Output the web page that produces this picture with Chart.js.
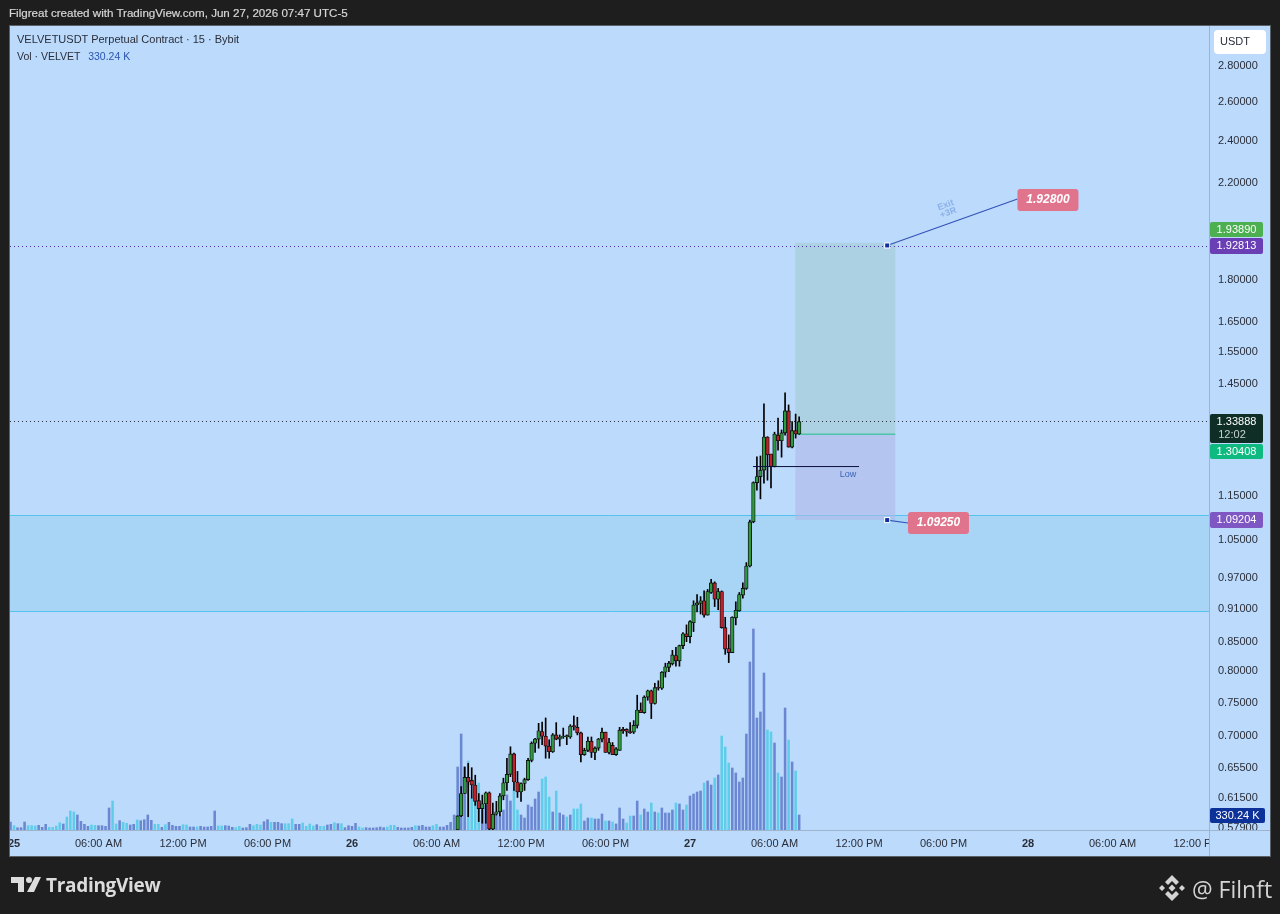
<!DOCTYPE html>
<html>
<head>
<meta charset="utf-8">
<title>VELVETUSDT</title>
<script src="https://cdn.jsdelivr.net/npm/chart.js@4"></script>
<style>
  html, body { margin: 0; padding: 0; background: #1e1e1e; }
  body { width: 1280px; height: 914px; position: relative; overflow: hidden; font-family: "Liberation Sans", sans-serif; }
  canvas { position: absolute; left: 0; top: 0; }
  .txt { position: absolute; white-space: nowrap; }
  #topline { left: 9px; top: 6px; font-size: 11.6px; line-height: 14px; color: #d6d6d6; -webkit-text-stroke: 0.2px #d6d6d6; }
  #legend1 { left: 17px; top: 32px; font-size: 11px; line-height: 15px; color: #2a2e39; }
  #legend2 { left: 17px; top: 49px; font-size: 10.5px; line-height: 15px; color: #2a2e39; }
  #legend2 span { color: #2a55b0; margin-left: 5px; }
  #tvname { left: 46px; top: 873px; font-size: 19px; line-height: 24px; font-weight: bold; color: #dcdcdc; font-family: "Open Sans", sans-serif; letter-spacing: -0.3px; }
  #author { left: 1192px; top: 874px; font-size: 23px; line-height: 30px; color: #d4d4d4; font-family: "Open Sans", sans-serif; }
  svg { position: absolute; }
</style>
</head>
<body>
<canvas id="myChart" width="1280" height="914"></canvas>

<div class="txt" id="topline">Filgreat created with TradingView.com, Jun 27, 2026 07:47 UTC-5</div>
<div class="txt" id="legend1">VELVETUSDT Perpetual Contract · 15 · Bybit</div>
<div class="txt" id="legend2">Vol · VELVET <span>330.24 K</span></div>

<svg style="left:11px;top:877px" width="30" height="16" viewBox="0 0 30 16">
  <path d="M0 0h13v15H7V6H0z M18 0a3 3 0 1 1 0 6a3 3 0 0 1 0-6z M24 0h6l-7 15h-7z" fill="#dcdcdc"/>
</svg>
<div class="txt" id="tvname">TradingView</div>

<svg style="left:1158px;top:874px" width="28" height="28" viewBox="0 0 28 28">
  <path d="M14 1l7 7-3 3-4-4-4 4-3-3z M14 27l-7-7 3-3 4 4 4-4 3 3z M1 14l3-3 3 3-3 3z M27 14l-3-3-3 3 3 3z M14 10.500l3.500 3.500-3.500 3.500-3.500-3.500z" fill="#d4d4d4"/>
</svg>
<div class="txt" id="author">@ Filnft</div>

<script>
// Preis-Ticks rechts
const priceTicks = [2.8, 2.6, 2.4, 2.2, 1.8, 1.65, 1.55, 1.45, 1.15, 1.05, 0.97, 0.91, 0.85, 0.8, 0.75, 0.7, 0.655, 0.615, 0.579];

// Zeitachse: Kerzen-Index und Text
const timeTickBars = [0, 24, 48, 72, 96, 120, 144, 168, 192, 216, 240, 264, 288, 312, 336];
const timeTickLabels = ['25', '06:00 AM', '12:00 PM', '06:00 PM', '26', '06:00 AM', '12:00 PM', '06:00 PM', '27', '06:00 AM', '12:00 PM', '06:00 PM', '28', '06:00 AM', '12:00 PM'];

// Kerzen (15 min), erste sichtbare Kerze hat Index 126
const firstCandle = 126;
const opens = [0.575, 0.592, 0.620, 0.641, 0.637, 0.631, 0.611, 0.601, 0.607, 0.621, 0.576, 0.594, 0.597, 0.617, 0.634, 0.645, 0.673, 0.635, 0.622, 0.633,
  0.638, 0.664, 0.688, 0.694, 0.705, 0.698, 0.684, 0.676, 0.700, 0.694, 0.697, 0.697, 0.697, 0.713, 0.711, 0.703, 0.672, 0.678, 0.691, 0.675,
  0.681, 0.694, 0.704, 0.675, 0.685, 0.672, 0.678, 0.708, 0.708, 0.705, 0.704, 0.714, 0.737, 0.733, 0.757, 0.767, 0.747, 0.772, 0.771, 0.797,
  0.805, 0.811, 0.825, 0.816, 0.842, 0.863, 0.858, 0.883, 0.916, 0.919, 0.924, 0.897, 0.940, 0.959, 0.927, 0.942, 0.874, 0.837, 0.830, 0.892,
  0.905, 0.935, 0.948, 0.993, 1.088, 1.180, 1.195, 1.211, 1.297, 1.252, 1.220, 1.302, 1.287, 1.308, 1.369, 1.270, 1.314, 1.305];
const highs = [0.592, 0.629, 0.655, 0.660, 0.654, 0.644, 0.620, 0.618, 0.622, 0.622, 0.608, 0.610, 0.620, 0.640, 0.667, 0.683, 0.674, 0.649, 0.634, 0.640,
  0.667, 0.690, 0.695, 0.717, 0.719, 0.725, 0.693, 0.702, 0.718, 0.700, 0.710, 0.700, 0.715, 0.728, 0.726, 0.704, 0.681, 0.697, 0.697, 0.683,
  0.695, 0.710, 0.704, 0.695, 0.689, 0.682, 0.711, 0.711, 0.709, 0.718, 0.721, 0.760, 0.748, 0.759, 0.768, 0.768, 0.779, 0.783, 0.798, 0.812,
  0.815, 0.834, 0.839, 0.843, 0.865, 0.879, 0.887, 0.924, 0.936, 0.932, 0.943, 0.946, 0.966, 0.961, 0.948, 0.943, 0.893, 0.861, 0.894, 0.922,
  0.940, 0.959, 1.000, 1.092, 1.182, 1.245, 1.247, 1.389, 1.298, 1.252, 1.310, 1.349, 1.316, 1.421, 1.386, 1.339, 1.360, 1.352];
const lows = [0.574, 0.591, 0.620, 0.591, 0.614, 0.605, 0.585, 0.583, 0.583, 0.575, 0.575, 0.593, 0.592, 0.612, 0.624, 0.642, 0.624, 0.615, 0.610, 0.624,
  0.637, 0.662, 0.675, 0.681, 0.686, 0.667, 0.667, 0.675, 0.693, 0.684, 0.695, 0.686, 0.695, 0.707, 0.700, 0.662, 0.671, 0.676, 0.668, 0.665,
  0.678, 0.690, 0.675, 0.673, 0.672, 0.671, 0.678, 0.702, 0.698, 0.702, 0.702, 0.710, 0.733, 0.732, 0.752, 0.724, 0.746, 0.768, 0.769, 0.789,
  0.798, 0.809, 0.807, 0.807, 0.837, 0.849, 0.847, 0.867, 0.903, 0.899, 0.893, 0.897, 0.938, 0.913, 0.907, 0.873, 0.827, 0.813, 0.830, 0.879,
  0.904, 0.929, 0.946, 0.991, 1.086, 1.162, 1.141, 1.179, 1.186, 1.167, 1.219, 1.262, 1.244, 1.302, 1.270, 1.268, 1.294, 1.304];
const closes = [0.592, 0.620, 0.641, 0.635, 0.631, 0.610, 0.601, 0.607, 0.621, 0.576, 0.594, 0.597, 0.617, 0.634, 0.645, 0.673, 0.635, 0.622, 0.633, 0.638,
  0.664, 0.688, 0.694, 0.706, 0.698, 0.684, 0.676, 0.700, 0.694, 0.697, 0.698, 0.699, 0.713, 0.712, 0.703, 0.672, 0.678, 0.691, 0.675, 0.681,
  0.694, 0.704, 0.675, 0.689, 0.672, 0.680, 0.707, 0.706, 0.705, 0.703, 0.714, 0.737, 0.733, 0.757, 0.767, 0.747, 0.772, 0.771, 0.797, 0.806,
  0.812, 0.826, 0.816, 0.842, 0.863, 0.858, 0.885, 0.916, 0.920, 0.924, 0.897, 0.942, 0.959, 0.927, 0.942, 0.874, 0.836, 0.830, 0.893, 0.906,
  0.936, 0.948, 0.993, 1.088, 1.180, 1.195, 1.211, 1.297, 1.250, 1.220, 1.305, 1.287, 1.308, 1.369, 1.270, 1.314, 1.305, 1.33888];

// Volumen in K, erster Balken hat Index -1
const firstVolume = -1;
const volumes = [176, 95, 50, 50, 176, 95, 95, 88, 103, 59, 125, 59, 59, 88, 161, 132, 286, 418, 396, 330, 191, 125, 81, 110, 103,
  95, 95, 81, 484, 638, 132, 205, 169, 147, 110, 125, 220, 205, 227, 330, 213, 125, 125, 59, 117, 169, 103, 81, 81, 117,
  110, 66, 66, 66, 81, 66, 66, 81, 418, 88, 88, 95, 88, 59, 51, 81, 44, 51, 125, 95, 125, 110, 183, 227, 169,
  169, 169, 139, 139, 139, 242, 125, 125, 154, 81, 132, 88, 117, 81, 81, 110, 125, 161, 139, 139, 51, 95, 81, 147, 66,
  44, 51, 44, 44, 51, 66, 51, 66, 103, 103, 59, 44, 44, 44, 59, 95, 88, 103, 66, 66, 95, 125, 66, 66, 103,
  169, 330, 1386, 2112, 1386, 1518, 704, 814, 1034, 440, 550, 220, 374, 330, 308, 440, 770, 638, 880, 440, 330, 264, 550, 506, 682,
  836, 1122, 1166, 726, 396, 858, 374, 330, 286, 330, 462, 462, 572, 198, 264, 264, 242, 242, 352, 198, 198, 176, 132, 484, 242,
  154, 308, 308, 638, 330, 462, 396, 594, 396, 374, 484, 374, 374, 440, 594, 572, 440, 550, 748, 792, 836, 858, 1034, 1078, 990,
  1144, 1210, 2068, 1826, 1474, 1364, 1254, 1056, 1144, 2112, 3696, 4422, 2464, 2596, 3454, 2200, 2156, 1914, 1254, 1166, 2684, 1980, 1496, 1298, 330.24];
// Balken, die hellblau sind
const lightVolumeBars = [0, 4, 5, 6, 10, 11, 12, 13, 15, 16, 17, 22, 23, 28, 29, 31, 32, 35, 40, 41, 43, 48, 49, 52, 58, 59, 63, 64, 68, 69, 70, 73, 77, 78, 79,
  82, 83, 84, 85, 87, 88, 91, 93, 98, 99, 106, 107, 108, 114, 119, 120, 129, 130, 131, 132, 136, 142, 143, 150, 151, 152, 154, 157, 159, 160, 161, 164,
  168, 170, 174, 175, 178, 181, 183, 188, 191, 196, 199, 201, 202, 203, 214, 215, 217, 220, 222];

// Zeichnungen im Chart
const zoneTop = 1.1035;
const zoneBottom = 0.9046;
const positionStart = 221.9;
const positionEnd = 250.3;
const targetPrice = 1.9389;
const entryPrice = 1.30408;
const stopPrice = 1.09204;
const lastPrice = 1.33888;
const exitLinePrice = 1.92813;
const handleBar = 248;
const exitLabelBar = 285;
const exitLabelPrice = 2.123;
const stopLabelBar = 253.9;
const stopLabelPrice = 1.0854;
const lowPrice = 1.22;
const lowFrom = 209.9;
const lowTo = 240;

const panelBg = '#bbdafc';
const darkBg = '#1e1e1e';

function barIndex(start, i) { return start + i; }

const volumeData = volumes.map((v, i) => ({ x: barIndex(firstVolume, i), y: v }));
const volumeColors = volumes.map((v, i) => lightVolumeBars.includes(barIndex(firstVolume, i)) ? '#5fcde9' : '#6b87d2');
const wickData = highs.map((h, i) => ({ x: barIndex(firstCandle, i), y: [lows[i], h] }));
const bodyData = opens.map((o, i) => ({ x: barIndex(firstCandle, i), y: [Math.min(o, closes[i]), Math.max(o, closes[i])] }));
const bodyColors = opens.map((o, i) => closes[i] >= o ? '#2e9a40' : '#c0222c');

function roundBox(ctx, x, y, w, h, r, color) {
  ctx.fillStyle = color;
  ctx.beginPath();
  ctx.roundRect(x, y, w, h, r);
  ctx.fill();
}

// Preis-Schild rechts an der Achse
function axisTag(ctx, text, top, height, color, width) {
  roundBox(ctx, 1210, top, width || 53, height, 2, color);
  ctx.fillStyle = '#ffffff';
  ctx.font = '11px "Liberation Sans"';
  ctx.textAlign = 'center';
  ctx.textBaseline = 'middle';
  ctx.fillText(text, 1210 + (width || 53) / 2, top + 8);
}

function handle(ctx, x, y) {
  ctx.fillStyle = '#ffffff';
  ctx.fillRect(x - 3, y - 3, 6, 6);
  ctx.fillStyle = '#0d2f9e';
  ctx.fillRect(x - 2, y - 2, 4, 4);
}

function noteLabel(ctx, text, x, y) {
  roundBox(ctx, x, y, 61, 22, 3, '#e0748c');
  ctx.fillStyle = '#ffffff';
  ctx.font = 'italic bold 12px "Liberation Sans"';
  ctx.textAlign = 'center';
  ctx.textBaseline = 'middle';
  ctx.fillText(text, x + 30.5, y + 11);
}

const drawings = {
  id: 'drawings',
  beforeDraw(chart) {
    const ctx = chart.ctx;
    ctx.save();
    ctx.fillStyle = panelBg;
    ctx.fillRect(10, 26, 1260, 830);
    ctx.restore();
  },
  beforeDatasetsDraw(chart) {
    const ctx = chart.ctx;
    const x = chart.scales.x;
    const y = chart.scales.y;
    const area = chart.chartArea;
    ctx.save();

    // Zone
    const zt = Math.round(y.getPixelForValue(zoneTop)) + 0.5;
    const zb = Math.round(y.getPixelForValue(zoneBottom)) + 0.5;
    ctx.fillStyle = '#a8d5f6';
    ctx.fillRect(area.left, zt, area.right - area.left, zb - zt);
    ctx.strokeStyle = '#55c3ee';
    ctx.lineWidth = 1;
    ctx.beginPath();
    ctx.moveTo(area.left, zt);
    ctx.lineTo(area.right, zt);
    ctx.moveTo(area.left, zb);
    ctx.lineTo(area.right, zb);
    ctx.stroke();

    // Long-Position, liegt unter den Kerzen
    const left = x.getPixelForValue(positionStart);
    const right = x.getPixelForValue(positionEnd);
    const top = y.getPixelForValue(targetPrice);
    const entry = y.getPixelForValue(entryPrice);
    const stop = y.getPixelForValue(stopPrice);
    ctx.fillStyle = 'rgba(160, 204, 210, 0.6)';
    ctx.fillRect(left, top, right - left, entry - top);
    ctx.fillStyle = 'rgba(175, 185, 232, 0.6)';
    ctx.fillRect(left, entry, right - left, stop - entry);
    ctx.strokeStyle = '#4dc4a8';
    ctx.lineWidth = 1.5;
    ctx.beginPath();
    ctx.moveTo(left, entry);
    ctx.lineTo(right, entry);
    ctx.stroke();

    // gepunktete Linien
    const exitY = Math.ceil(y.getPixelForValue(exitLinePrice)) + 0.5;
    const lastY = Math.floor(y.getPixelForValue(lastPrice)) + 0.5;
    ctx.lineWidth = 1;
    ctx.setLineDash([1, 3]);
    ctx.strokeStyle = '#4b2fa3';
    ctx.beginPath();
    ctx.moveTo(area.left, exitY);
    ctx.lineTo(area.right, exitY);
    ctx.stroke();
    ctx.strokeStyle = '#2a2e39';
    ctx.beginPath();
    ctx.moveTo(area.left, lastY);
    ctx.lineTo(area.right, lastY);
    ctx.stroke();
    ctx.restore();
  },
  afterDatasetsDraw(chart) {
    const ctx = chart.ctx;
    const x = chart.scales.x;
    const y = chart.scales.y;
    ctx.save();

    // Low
    const lowY = y.getPixelForValue(lowPrice);
    ctx.strokeStyle = '#0b0f3a';
    ctx.lineWidth = 1;
    ctx.beginPath();
    ctx.moveTo(x.getPixelForValue(lowFrom), lowY);
    ctx.lineTo(x.getPixelForValue(lowTo), lowY);
    ctx.stroke();
    ctx.fillStyle = '#3a62b8';
    ctx.font = '9px "Liberation Sans"';
    ctx.textAlign = 'center';
    ctx.textBaseline = 'middle';
    ctx.fillText('Low', x.getPixelForValue(lowTo) - 11, lowY + 8);

    // Exit-Linie + Stop-Linie
    const hx = x.getPixelForValue(handleBar);
    const hy1 = y.getPixelForValue(exitLinePrice);
    const hy2 = y.getPixelForValue(stopPrice);
    const ex = x.getPixelForValue(exitLabelBar);
    const ey = y.getPixelForValue(exitLabelPrice);
    const sx = x.getPixelForValue(stopLabelBar);
    const sy = y.getPixelForValue(stopLabelPrice);
    ctx.strokeStyle = '#3553b8';
    ctx.lineWidth = 1.2;
    ctx.beginPath();
    ctx.moveTo(hx, hy1);
    ctx.lineTo(ex, ey);
    ctx.moveTo(hx, hy2);
    ctx.lineTo(sx, sy);
    ctx.stroke();
    handle(ctx, hx, hy1);
    handle(ctx, hx, hy2);
    noteLabel(ctx, '1.92800', ex, ey - 10);
    noteLabel(ctx, '1.09250', sx, sy - 11);

    // Exit +3R schräg
    ctx.save();
    ctx.translate(947, 209);
    ctx.rotate(-20 * Math.PI / 180);
    ctx.fillStyle = '#8db0e8';
    ctx.font = 'bold 9px "Liberation Sans"';
    ctx.textAlign = 'center';
    ctx.textBaseline = 'middle';
    ctx.fillText('Exit', 0, -4);
    ctx.fillText('+3R', 0, 4);
    ctx.restore();
    ctx.restore();
  },
  afterDraw(chart) {
    const ctx = chart.ctx;
    ctx.save();

    // abgeschnittene Zeitachsen-Texte wie im Original
    ctx.fillStyle = panelBg;
    ctx.fillRect(1209, 831, 61, 25);
    ctx.fillStyle = darkBg;
    ctx.fillRect(0, 826, 10, 32);

    // Rahmen und Trennlinien
    ctx.strokeStyle = '#9fb4cc';
    ctx.lineWidth = 1;
    ctx.beginPath();
    ctx.moveTo(1209.5, 26);
    ctx.lineTo(1209.5, 856);
    ctx.moveTo(10, 830.5);
    ctx.lineTo(1270, 830.5);
    ctx.stroke();
    ctx.strokeStyle = '#5a6068';
    ctx.strokeRect(9.5, 25.5, 1261, 831);

    // USDT
    roundBox(ctx, 1214, 30, 52, 24, 4, '#ffffff');
    ctx.fillStyle = '#2a2e39';
    ctx.font = '11px "Liberation Sans"';
    ctx.textAlign = 'center';
    ctx.textBaseline = 'middle';
    ctx.fillText('USDT', 1235, 42);

    axisTag(ctx, '1.93890', 222, 15, '#4caf50');
    axisTag(ctx, '1.92813', 238, 16, '#6a3fb5');
    axisTag(ctx, '1.33888', 414, 29, '#0e2e26');
    ctx.fillStyle = '#c9d2cf';
    ctx.fillText('12:02', 1232, 435);
    axisTag(ctx, '1.30408', 444, 15, '#0fba80');
    axisTag(ctx, '1.09204', 512, 16, '#7e57c2');
    axisTag(ctx, '330.24 K', 808, 15, '#0c3299', 55);
    ctx.restore();
  }
};

const ctx = document.getElementById('myChart').getContext('2d');

let chart = new Chart(ctx, {
  data: {
    datasets: [
      { type: 'bar', label: 'Body', data: bodyData, order: 1, yAxisID: 'y', grouped: false, barThickness: 3.6, minBarLength: 1, backgroundColor: bodyColors, borderColor: '#101010', borderWidth: 0.9, borderSkipped: false },
      { type: 'bar', label: 'Wick', data: wickData, order: 2, yAxisID: 'y', grouped: false, barThickness: 1, backgroundColor: '#000000', borderWidth: 0 },
      { type: 'bar', label: 'Vol', data: volumeData, order: 3, yAxisID: 'y2', grouped: false, barThickness: 1.9, backgroundColor: volumeColors, borderWidth: 0 }
    ]
  },
  options: {
    responsive: false,
    animation: false,
    events: [],
    layout: { padding: { left: 10, top: 26, right: 10, bottom: 58 } },
    plugins: { legend: { display: false }, tooltip: { enabled: false } },
    scales: {
      x: {
        type: 'linear',
        offset: false,
        min: -1.136,
        max: 339.4,
        grid: { display: false, drawTicks: false, offset: false },
        border: { display: false },
        afterBuildTicks: (scale) => { scale.ticks = timeTickBars.map(v => ({ value: v })); },
        afterFit: (scale) => { scale.height = 26; },
        ticks: {
          autoSkip: false,
          maxRotation: 0,
          padding: 7,
          color: '#2a2e39',
          font: (c) => {
            const label = timeTickLabels[timeTickBars.indexOf(c.tick ? c.tick.value : -99)];
            return { family: 'Liberation Sans', size: 11, weight: label && label.length === 2 ? 'bold' : 'normal' };
          },
          callback: (v) => timeTickLabels[timeTickBars.indexOf(v)]
        }
      },
      y: {
        type: 'logarithmic',
        position: 'right',
        min: 0.5749,
        max: 3.037,
        grid: { display: false, drawTicks: false },
        border: { display: false },
        afterBuildTicks: (scale) => { scale.ticks = priceTicks.map(v => ({ value: v })); },
        afterFit: (scale) => { scale.width = 61; },
        ticks: {
          autoSkip: false,
          padding: 9,
          labelOffset: 1,
          color: '#2a2e39',
          font: { family: 'Liberation Sans', size: 11 },
          callback: (v) => v.toFixed(5)
        }
      },
      y2: {
        type: 'linear',
        display: false,
        min: 0,
        max: 17688
      }
    }
  },
  plugins: [drawings]
});
</script>
</body>
</html>
